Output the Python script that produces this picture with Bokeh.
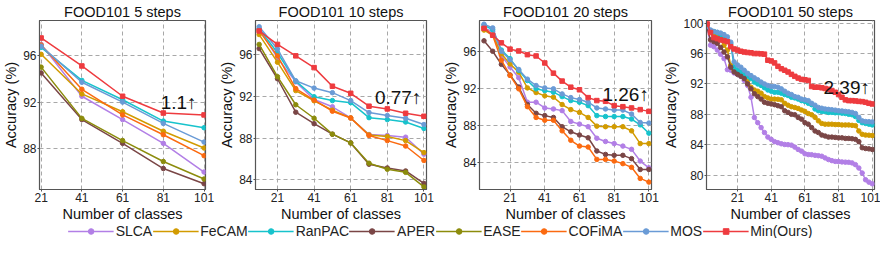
from bokeh.plotting import figure
from bokeh.layouts import row, column
from bokeh.models import Range1d, Label, Legend, LegendItem, ColumnDataSource, FixedTicker
from bokeh.embed import file_html
from bokeh.resources import INLINE

FONT = "Liberation Sans"

METHODS = ["SLCA", "FeCAM", "RanPAC", "APER", "EASE", "COFiMA", "MOS", "Min(Ours)"]
COLORS = {
    "SLCA": "#b27fe6", "FeCAM": "#d29b00", "RanPAC": "#17c3cc", "APER": "#7a4646",
    "EASE": "#8c8c0c", "COFiMA": "#fb6a10", "MOS": "#6a9bd6", "Min(Ours)": "#ee3b3f",
}

# ---------------- FOOD101 5 steps ----------------
X5 = [21, 41, 61, 81, 101]
SLCA5 = [96.95, 92.5, 90.5, 88.46, 86.0]
FECAM5 = [96.1, 92.7, 91.17, 89.5, 88.06]
RANPAC5 = [96.7, 93.86, 92.2, 90.37, 89.8]
APER5 = [94.5, 90.5, 88.46, 86.3, 85.0]
EASE5 = [95.0, 90.6, 88.7, 86.9, 85.4]
COFIMA5 = [96.9, 93.1, 90.9, 89.2, 87.4]
MOS5 = [96.8, 93.7, 92.0, 90.17, 88.57]
MIN5 = [97.5, 95.1, 92.5, 91.06, 90.9]

# ---------------- FOOD101 10 steps ----------------
X10 = [11, 21, 31, 41, 51, 61, 71, 81, 91, 101]
SLCA10 = [98.47, 95.7, 93.4, 91.7, 91.0, 89.93, 88.34, 88.24, 88.08, 86.45]
FECAM10 = [97.95, 95.29, 92.56, 91.58, 90.68, 89.93, 88.3, 88.14, 87.75, 86.6]
RANPAC10 = [98.5, 96.2, 93.47, 91.97, 91.6, 91.4, 89.96, 89.77, 89.54, 88.92]
APER10 = [96.6, 93.7, 90.48, 89.38, 88.37, 87.53, 85.48, 85.12, 84.83, 83.63]
EASE10 = [97.0, 93.9, 91.2, 89.9, 88.37, 87.53, 85.58, 85.0, 84.7, 83.3]
COFIMA10 = [98.3, 95.9, 92.75, 91.65, 90.58, 89.93, 88.24, 87.75, 87.23, 85.84]
MOS10 = [98.7, 96.55, 93.5, 92.8, 92.36, 91.6, 90.45, 90.16, 89.9, 89.3]
MIN10 = [98.3, 97.0, 95.9, 94.77, 92.98, 92.3, 91.06, 90.8, 90.38, 90.09]

# ---------------- FOOD101 20 steps ----------------
X20 = list(range(6, 102, 5))
SLCA20 = [98.6, 98.2, 95.6, 94.36, 93.2, 90.55, 90.55, 89.93, 89.82, 89.64,
          88.47, 88.18, 87.9, 86.65, 86.3, 86.07, 85.8, 85.45, 84.18, 83.45]
FECAM20 = [98.36, 97.8, 95.8, 94.7, 93.8, 92.1, 91.6, 91.24, 91.1, 90.3,
           89.75, 89.45, 88.9, 87.96, 87.9, 87.9, 87.9, 87.45, 86.07, 86.07]
RANPAC20 = [98.9, 98.4, 96.2, 95.27, 94.0, 92.9, 92.0, 91.8, 91.64, 91.16,
            90.73, 90.55, 90.18, 89.1, 89.0, 89.0, 89.0, 88.73, 88.1, 87.2]
APER20 = [97.2, 96.07, 94.65, 93.5, 92.2, 90.3, 89.35, 89.1, 88.9, 87.9,
          87.35, 87.0, 86.7, 85.27, 84.9, 84.8, 84.8, 84.44, 83.27, 83.27]
COFIMA20 = [98.65, 97.8, 95.1, 93.45, 92.0, 90.07, 88.9, 88.6, 88.6, 87.45,
            86.43, 85.8, 85.7, 84.36, 84.36, 84.18, 83.9, 83.5, 82.3, 81.9]
MOS20 = [99.0, 98.6, 96.07, 95.16, 94.1, 93.05, 92.36, 92.1, 92.0, 91.45,
         91.05, 90.84, 90.55, 89.93, 89.82, 89.7, 89.7, 89.27, 88.36, 88.3]
MIN20 = [98.55, 97.8, 96.98, 96.3, 96.1, 95.7, 95.56, 94.8, 93.7, 92.84,
         92.18, 91.9, 91.05, 90.73, 90.65, 90.18, 90.07, 89.93, 89.75, 89.56]

# ---------------- FOOD101 50 steps ----------------
X50 = list(range(3, 102, 2))
SLCA50 = [99.56, 97.1, 96.9, 96.45, 95.9, 95.34, 93.88, 93.8, 93.44, 93.26,
          93.0, 92.46, 91.8, 90.24, 87.58, 86.9, 86.25, 85.6, 85.0,
          84.7, 84.4, 84.26, 84.12, 84.03, 84.0, 83.94, 83.68, 83.37, 83.15, 82.8, 82.7,
          82.68, 82.6, 82.55, 82.48, 82.26, 82.04, 81.9, 81.8, 81.78, 81.73, 81.7, 81.68,
          81.6, 81.37, 80.93, 80.27, 79.38, 79.07, 78.85]
FECAM50 = [99.6, 99.0, 98.45, 98.2, 97.8, 97.1, 96.45, 94.46, 93.8, 93.44,
           93.1, 92.9, 92.37, 91.57, 91.2, 91.04, 90.78, 90.33, 90.16,
           90.0, 90.0, 89.98, 89.9, 89.45, 89.2, 89.0, 88.9, 88.77, 88.56, 88.38, 88.1,
           87.94, 87.6, 87.14, 86.8, 86.7, 86.7, 86.7, 86.65, 86.65, 86.6, 86.6, 86.6,
           86.55, 86.5, 85.8, 85.37, 85.27, 85.25, 85.2]
RANPAC50 = [99.8, 99.0, 98.9, 98.76, 98.45, 98.0, 97.7, 97.3, 94.2, 93.8,
            93.57, 93.26, 93.0, 92.7, 92.24, 92.0, 91.8, 91.5, 91.2,
            91.04, 90.9, 90.9, 90.78, 90.6, 90.47, 90.24, 90.16, 90.0, 89.8, 89.7, 89.45,
            89.27, 88.7, 88.47, 88.38, 88.35, 88.25, 88.25, 88.2, 88.2, 88.15, 88.1, 88.0,
            87.94, 87.7, 87.2, 86.9, 86.8, 86.7, 86.6]
APER50 = [99.33, 97.8, 97.56, 97.34, 96.8, 96.2, 95.57, 94.2, 93.57, 93.26,
          93.0, 92.7, 92.0, 91.35, 90.7, 90.33, 90.0, 89.58, 89.45,
          89.36, 89.27, 89.13, 89.0, 88.47, 88.25, 88.0, 87.94, 87.58, 87.36, 86.9, 86.7,
          86.25, 85.8, 85.6, 85.27, 85.14, 85.0, 85.0, 84.96, 84.9, 84.9, 84.83, 84.83,
          84.78, 84.7, 84.4, 83.6, 83.5, 83.45, 83.37]
MOS50 = [99.56, 99.1, 98.9, 98.8, 98.7, 98.5, 98.2, 97.5, 94.9, 94.5,
         94.2, 93.8, 93.4, 93.1, 92.8, 92.55, 92.24, 92.0, 91.8,
         91.66, 91.66, 91.57, 91.35, 91.04, 90.78, 90.6, 90.33, 90.24, 90.0, 89.9, 89.8,
         89.45, 89.2, 88.9, 88.8, 88.7, 88.65, 88.6, 88.55, 88.47, 88.44, 88.38, 88.33,
         88.25, 88.1, 87.6, 87.14, 87.05, 87.03, 87.0]
MIN50 = [99.9, 98.76, 98.1, 97.96, 97.8, 97.7, 97.56, 96.9, 96.6, 96.45,
         96.3, 96.2, 96.14, 96.1, 96.0, 96.0, 95.96, 95.92, 95.12, 95.03,
         94.77, 94.32, 94.0, 93.8, 93.57, 93.26, 93.0, 92.77, 92.6, 92.55,
         92.46, 91.66, 91.57, 91.57, 91.49, 91.4, 91.3, 91.13, 90.9, 90.6,
         90.24, 89.9, 89.8, 89.8, 89.76, 89.7, 89.67, 89.58, 89.45, 89.36]

XTICKS = [21, 41, 61, 81, 101]

SERIES5 = {"SLCA": SLCA5, "FeCAM": FECAM5, "RanPAC": RANPAC5, "APER": APER5,
           "EASE": EASE5, "COFiMA": COFIMA5, "MOS": MOS5, "Min(Ours)": MIN5}

PANELS = [
    dict(title="FOOD101 5 steps", x=X5, series=SERIES5,
         gain="1.1\u2191", gx=97.3, gy=91.95, yticks=[88, 92, 96],
         xr=(20.2, 101.7), yr=(84.5, 99.0),
         width=216, bl=32, br=11),
    dict(title="FOOD101 10 steps", x=X10,
         series={"SLCA": SLCA10, "FeCAM": FECAM10, "RanPAC": RANPAC10, "APER": APER10,
                 "EASE": EASE10, "COFiMA": COFIMA10, "MOS": MOS10, "Min(Ours)": MIN10},
         gain="0.77\u2191", gx=99.6, gy=91.9, yticks=[84, 88, 92, 96],
         xr=(9.0, 102.4), yr=(83.05, 99.3),
         width=224, bl=32, br=14),
    dict(title="FOOD101 20 steps", x=X20,
         series={"SLCA": SLCA20, "FeCAM": FECAM20, "RanPAC": RANPAC20, "APER": APER20,
                 "COFiMA": COFIMA20, "MOS": MOS20, "Min(Ours)": MIN20},
         gain="1.26\u2191", gx=101.0, gy=91.4, yticks=[84, 88, 92, 96],
         xr=(3.4, 102.5), yr=(81.1, 99.4),
         width=220, bl=34, br=9),
    dict(title="FOOD101 50 steps", x=X50,
         series={"SLCA": SLCA50, "FeCAM": FECAM50, "RanPAC": RANPAC50, "APER": APER50,
                 "MOS": MOS50, "Min(Ours)": MIN50},
         gain="2.39\u2191", gx=99.6, gy=91.56, yticks=[80, 84, 88, 92, 96, 100],
         xr=(2.6, 102.3), yr=(78.1, 100.35),
         width=220, bl=39, br=6),
]

ROW_H = 224


def make_panel(cfg):
    p = figure(width=cfg["width"], height=ROW_H, output_backend="svg", toolbar_location=None,
               x_range=Range1d(*cfg["xr"]), y_range=Range1d(*cfg["yr"]),
               min_border_left=cfg["bl"], min_border_right=cfg["br"],
               min_border_top=16, min_border_bottom=34,
               background_fill_color="white", border_fill_color="white")
    p.title.text = cfg["title"]
    p.title.align = "center"
    p.title.text_font = FONT
    p.title.text_font_size = "14.5px"
    p.title.text_font_style = "normal"
    p.title.text_color = "#111111"
    p.title.standoff = 2

    p.xaxis.ticker = FixedTicker(ticks=XTICKS)
    p.yaxis.ticker = FixedTicker(ticks=cfg["yticks"])
    p.xaxis.axis_label = "Number of classes"
    p.yaxis.axis_label = "Accuracy (%)"
    for ax in (p.xaxis[0], p.yaxis[0]):
        ax.axis_label_text_font = FONT
        ax.axis_label_text_font_size = "14.5px"
        ax.axis_label_text_font_style = "normal"
        ax.axis_label_text_color = "#111111"
        ax.major_label_text_font = FONT
        ax.major_label_text_font_size = "12px"
        ax.major_label_text_color = "#222222"
        ax.axis_line_color = "#555555"
        ax.major_tick_line_color = "#555555"
        ax.major_tick_in = 0
        ax.major_tick_out = 2
        ax.minor_tick_line_color = None
        ax.major_label_standoff = 1
        ax.axis_label_standoff = 1
    p.xgrid.grid_line_color = "#a8a8a8"
    p.ygrid.grid_line_color = "#a8a8a8"
    p.xgrid.grid_line_dash = "4 3"
    p.ygrid.grid_line_dash = "4 3"
    p.outline_line_color = "#555555"
    p.outline_line_width = 1.2

    xs = cfg["x"]
    for m in METHODS:
        if m not in cfg["series"]:
            continue
        src = ColumnDataSource(dict(x=xs, y=cfg["series"][m]))
        c = COLORS[m]
        p.line("x", "y", source=src, line_color=c, line_width=1.5)
        marker = "square" if m == "Min(Ours)" else "circle"
        p.scatter("x", "y", source=src, marker=marker, size=4.5,
                  fill_color=c, line_color=c)

    p.add_layout(Label(x=cfg["gx"], y=cfg["gy"], text=cfg["gain"], text_align="right",
                       text_baseline="alphabetic", text_font=FONT, text_font_size="19px",
                       text_color="#111111"))
    return p


panels = [make_panel(c) for c in PANELS]

# legend strip (its renderers use the 5-step data, which lies outside this strip's ranges)
leg = figure(width=880, height=14, output_backend="svg", toolbar_location=None,
             x_range=Range1d(0, 1), y_range=Range1d(0, 1),
             min_border=0, min_border_left=0, min_border_right=0,
             min_border_top=0, min_border_bottom=0,
             x_axis_type=None, y_axis_type=None, outline_line_color=None,
             background_fill_color="white", border_fill_color="white")
leg.xgrid.visible = False
leg.ygrid.visible = False
items = []
for m in METHODS:
    c = COLORS[m]
    src = ColumnDataSource(dict(x=X5, y=SERIES5[m]))
    lr = leg.line("x", "y", source=src, line_color=c, line_width=1.5)
    marker = "square" if m == "Min(Ours)" else "circle"
    sr = leg.scatter("x", "y", source=src, marker=marker, size=7, fill_color=c, line_color=c)
    items.append(LegendItem(label=m, renderers=[lr, sr]))
legend = Legend(items=items, orientation="horizontal", location="center",
                label_text_font=FONT, label_text_font_size="14px", label_text_color="#222222",
                glyph_width=46, glyph_height=14, label_standoff=2, spacing=0,
                padding=0, margin=0, border_line_color=None, background_fill_alpha=0,
                label_height=14)
leg.add_layout(legend)

layout = column(row(*panels, spacing=0), leg, spacing=0)

open("out.html", "w").write(file_html(layout, INLINE))
